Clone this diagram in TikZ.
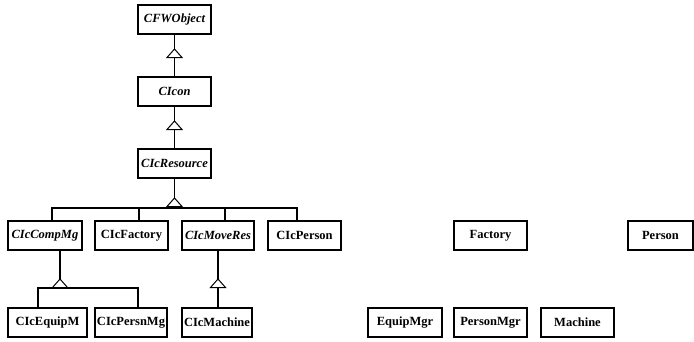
\documentclass[tikz,border=0pt]{standalone}
\usepackage{fontspec}
\setmainfont{Liberation Serif}
\usetikzlibrary{calc}
\begin{document}
\begin{tikzpicture}[x=1pt,y=-1pt,
  cls/.style={draw, line width=1.8pt, minimum height=29pt, inner sep=0pt,
    font=\fontsize{12.5}{15}\selectfont\bfseries},
  abs/.style={cls, font=\fontsize{12.5}{15}\selectfont\bfseries\itshape},
  conn/.style={line width=1.8pt},
  inh/.pic={\draw[line width=1pt, fill=white] (0,0) -- (-7.5,8.5) -- (7.5,8.5) -- cycle;}]
\useasboundingbox (0,0) rectangle (694,341);
% nodes
\node[abs, minimum width=73pt] (cfw) at (174.5,19.5) {CFWObject};
\node[abs, minimum width=73pt] (icon) at (174.5,91.5) {CIcon};
\node[abs, minimum width=73pt] (res) at (174.5,163.5) {CIcResource};
\node[abs, minimum width=74pt] (comp) at (45,235.5) {CIcCompMg};
\node[cls, minimum width=73pt] (fac) at (131.5,235.5) {CIcFactory};
\node[abs, minimum width=72pt] (move) at (218,235.5) {CIcMoveRes};
\node[cls, minimum width=73pt] (pers) at (304.5,235.5) {CIcPerson};
\node[cls, minimum width=73pt] (factory) at (490.5,235.5) {Factory};
\node[cls, minimum width=65pt] (person) at (660.5,235.5) {Person};
\node[cls, minimum width=79pt] (equip) at (47.5,322.5) {CIcEquipM};
\node[cls, minimum width=72pt] (persn) at (131,322.5) {CIcPersnMg};
\node[cls, minimum width=70pt] (mach) at (217,322.5) {CIcMachine};
\node[cls, minimum width=74pt] (equipmgr) at (405,322.5) {EquipMgr};
\node[cls, minimum width=73pt] (personmgr) at (490.5,322.5) {PersonMgr};
\node[cls, minimum width=73pt] (machine) at (577.5,322.5) {Machine};
% apex coordinates
\coordinate (a1) at (174.5,49);
\coordinate (a2) at (174.5,121);
\coordinate (a3) at (174.5,198);
\coordinate (a4) at (60,279);
\coordinate (a5) at (218,279);
% CFWObject <- CIcon
\draw[conn] (cfw.south) -- (a1);
\draw[conn] (icon.north) -- ($(a1)+(0,8.5)$);
\pic at (a1) {inh};
% CIcon <- CIcResource
\draw[conn] (icon.south) -- (a2);
\draw[conn] (res.north) -- ($(a2)+(0,8.5)$);
\pic at (a2) {inh};
% CIcResource <- row 2
\draw[conn] (res.south) -- (a3);
\draw[conn] ($(comp.north)+(7,0)$) |- ($(a3)+(0,10)$) -| ($(pers.north)+(-7.5,0)$);
\draw[conn] ($(fac.north)+(7.5,0)$) -- ++(0,-13);
\draw[conn] ($(move.north)+(7,0)$) -- ++(0,-13);
\pic at (a3) {inh};
% CIcCompMg <- row 3
\draw[conn] ($(comp.south)+(15,0)$) -- (a4);
\draw[conn] ($(equip.north)+(-9.5,0)$) |- ($(a4)+(0,9)$) -| ($(persn.north)+(7,0)$);
\pic at (a4) {inh};
% CIcMoveRes <- CIcMachine
\draw[conn] (move.south) -- (a5);
\draw[conn] ($(mach.north)+(1,0)$) -- ($(a5)+(0,8.5)$);
\pic at (a5) {inh};
\end{tikzpicture}
\end{document}
